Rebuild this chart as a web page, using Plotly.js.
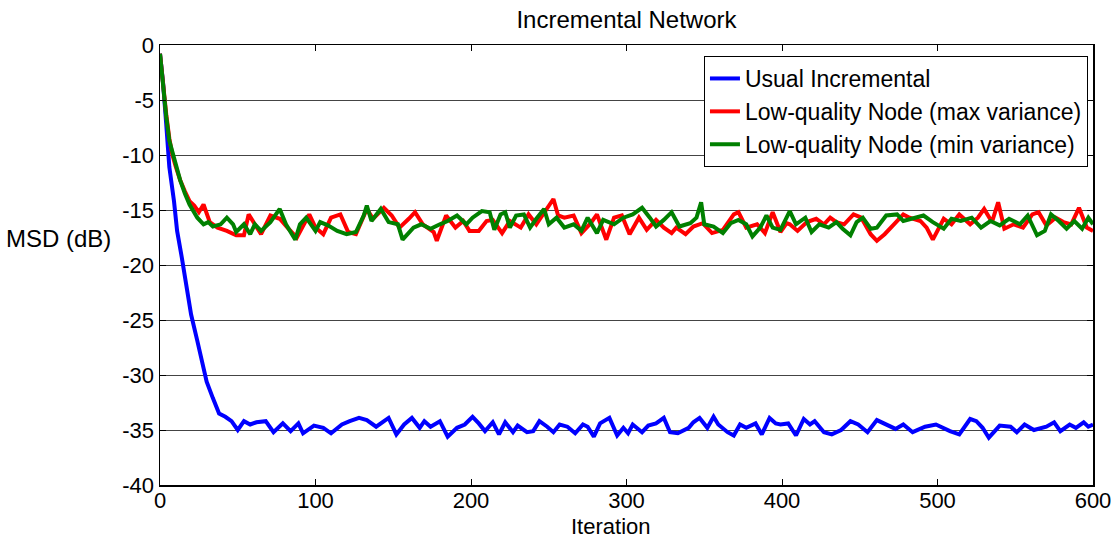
<!DOCTYPE html>
<html>
<head>
<meta charset="utf-8">
<script src="https://cdn.plot.ly/plotly-3.0.1.min.js"></script>
<style>html,body{margin:0;padding:0;background:#fff;}#chart{width:1118px;height:540px;}</style>
</head>
<body>
<div id="chart"></div>
<script>
// Series names
const seriesNames = ["Usual Incremental", "Low-quality Node (max variance)", "Low-quality Node (min variance)"];

// Usual Incremental (blue)
const blueIter = [0,2,4,6,9,11,14,17,20,24,27,30,34,38,42,46,50,54,58,62,68,73,79,84,89,92,99,105,110,117,122,128,133,139,147,152,157,162,167,170,174,180,185,191,196,201,205,209,214,218,222,227,230,236,240,244,249,253,257,262,267,272,275,279,283,289,294,298,301,304,310,314,319,324,328,333,340,343,347,352,356,359,365,369,373,377,383,387,392,396,399,404,409,414,418,421,427,432,438,444,449,455,461,466,473,478,484,492,499,508,514,521,525,529,533,540,547,551,556,562,570,575,579,585,589,594,597,600];
const blueMSD = [-0.8,-3.5,-7.2,-11.1,-14.2,-16.9,-19.3,-21.8,-24.5,-26.9,-28.8,-30.6,-32.1,-33.5,-33.8,-34.2,-35.0,-34.2,-34.5,-34.3,-34.2,-35.2,-34.4,-35.1,-34.4,-35.3,-34.6,-34.8,-35.3,-34.5,-34.2,-33.9,-34.1,-34.7,-33.9,-35.4,-34.5,-33.9,-34.8,-34.2,-34.7,-34.2,-35.6,-34.8,-34.5,-33.8,-34.4,-35.1,-34.3,-35.4,-34.3,-35.2,-34.6,-35.2,-35.1,-34.2,-34.7,-35.2,-34.5,-34.7,-35.3,-34.5,-34.7,-35.6,-34.4,-33.9,-35.5,-34.8,-35.3,-34.5,-35.2,-34.6,-34.4,-33.9,-35.2,-35.3,-34.8,-34.3,-33.9,-34.8,-33.8,-34.5,-35.2,-35.5,-34.5,-34.8,-34.4,-35.4,-33.9,-34.4,-34.5,-34.4,-35.5,-34.0,-34.5,-34.2,-35.2,-35.4,-35.0,-34.2,-34.5,-35.2,-34.1,-34.4,-34.9,-34.5,-35.2,-34.7,-34.5,-35.1,-35.4,-34.0,-34.2,-34.8,-35.7,-34.6,-34.7,-35.2,-34.5,-35.0,-34.7,-34.3,-35.1,-34.5,-34.8,-34.3,-34.7,-34.5];

// Low-quality Node (max variance) (red)
const redIter = [0,2,4,6,8,10,13,16,19,22,25,28,32,37,43,49,54,57,62,65,71,77,82,88,96,100,105,110,116,121,126,133,137,144,149,154,160,164,169,176,178,184,190,195,199,205,210,214,220,225,232,237,242,248,253,256,260,266,271,277,281,287,292,297,302,308,313,319,324,329,332,338,343,349,355,362,369,372,377,384,389,394,399,403,405,410,416,422,427,431,435,440,446,451,457,461,466,472,478,482,489,493,497,504,509,514,521,526,530,535,539,543,549,555,561,565,570,576,581,586,591,596,600];
const redMSD = [-0.8,-4.0,-6.3,-8.5,-10.0,-11.0,-12.3,-13.3,-14.2,-14.6,-15.2,-14.5,-16.1,-16.6,-16.9,-17.3,-17.3,-15.4,-16.6,-17.2,-15.5,-15.8,-16.6,-17.5,-15.4,-16.6,-17.2,-15.7,-15.4,-17.0,-17.2,-14.9,-15.8,-14.8,-15.5,-16.6,-15.8,-15.2,-16.3,-17.0,-17.8,-15.5,-16.6,-16.0,-16.9,-16.9,-16.0,-15.9,-17.1,-16.0,-16.6,-15.4,-16.3,-15.1,-14.0,-15.5,-15.7,-15.5,-17.1,-16.2,-15.4,-17.7,-15.7,-15.5,-17.2,-15.7,-16.8,-15.9,-16.6,-17.1,-16.6,-17.2,-16.5,-16.2,-17.1,-16.8,-15.4,-15.2,-16.6,-16.3,-17.1,-15.2,-17.0,-16.2,-16.3,-16.9,-16.1,-15.8,-16.3,-15.7,-16.1,-16.3,-15.4,-15.7,-17.2,-17.8,-17.2,-16.3,-15.4,-15.7,-16.0,-16.6,-17.7,-15.8,-16.3,-15.4,-16.3,-15.7,-14.9,-16.1,-14.3,-16.7,-16.3,-16.6,-15.4,-15.2,-16.4,-15.7,-16.1,-16.3,-14.8,-16.6,-16.9];

// Low-quality Node (min variance) (green)
const greenIter = [0,2,4,6,10,13,16,19,24,28,31,34,39,43,47,49,54,58,61,65,71,77,81,87,90,94,100,103,108,114,120,126,131,133,136,142,147,153,156,163,168,174,180,185,191,197,201,207,212,215,219,222,225,229,234,238,242,247,250,255,260,266,271,275,281,285,292,298,304,310,315,319,324,329,334,341,345,348,350,356,362,367,372,377,381,386,390,394,399,405,409,415,419,424,430,435,439,444,448,452,457,461,467,474,478,484,491,497,504,509,515,522,528,534,540,546,553,558,564,569,573,578,583,588,593,597,600];
const greenMSD = [-0.8,-4.1,-6.5,-8.7,-10.8,-12.3,-13.5,-14.5,-15.7,-16.3,-16.1,-16.5,-16.3,-15.7,-16.3,-17.0,-16.3,-17.2,-16.3,-16.9,-16.1,-14.9,-16.3,-17.7,-16.3,-15.7,-16.9,-16.1,-16.4,-16.9,-17.2,-17.0,-15.5,-14.6,-16.0,-14.9,-16.1,-16.3,-17.7,-16.6,-16.3,-16.7,-16.3,-16.0,-15.5,-16.3,-15.7,-15.1,-15.2,-16.8,-15.4,-15.2,-16.6,-15.5,-15.4,-16.6,-15.8,-14.9,-16.3,-15.7,-16.6,-16.3,-16.9,-15.7,-17.1,-15.9,-16.3,-15.7,-15.4,-14.8,-15.7,-16.5,-15.9,-15.2,-16.5,-16.2,-15.7,-14.3,-16.3,-16.5,-17.1,-16.2,-15.9,-16.3,-17.4,-16.6,-15.5,-16.6,-16.8,-15.1,-16.3,-15.7,-17.0,-16.3,-16.6,-16.1,-16.7,-17.3,-16.1,-15.7,-16.7,-16.6,-15.5,-15.4,-16.0,-15.8,-15.5,-16.1,-16.7,-15.8,-16.0,-15.7,-16.6,-16.0,-16.4,-15.8,-16.3,-15.5,-17.3,-16.9,-15.4,-16.0,-16.7,-16.0,-16.7,-15.7,-16.3];

// Tick values
const xTicks = [0,100,200,300,400,500,600];
const yTicks = [-40,-35,-30,-25,-20,-15,-10,-5,0];

const FONT = "Liberation Sans, Arial, Helvetica, sans-serif";

const traces = [
  {x: blueIter, y: blueMSD, name: seriesNames[0], type: 'scatter', mode: 'lines', line: {color: 'rgb(0,0,255)', width: 4}},
  {x: redIter, y: redMSD, name: seriesNames[1], type: 'scatter', mode: 'lines', line: {color: 'rgb(255,0,0)', width: 4}},
  {x: greenIter, y: greenMSD, name: seriesNames[2], type: 'scatter', mode: 'lines', line: {color: 'rgb(0,128,0)', width: 4}}
];

const layout = {
  width: 1118, height: 540,
  margin: {l: 160, r: 25, t: 45, b: 55},
  paper_bgcolor: '#ffffff', plot_bgcolor: '#ffffff',
  font: {family: FONT, size: 22, color: '#000'},
  title: {text: 'Incremental Network', xref: 'paper', x: 0.5, xanchor: 'center', y: 0.963, yanchor: 'middle', font: {family: FONT, size: 24, color: '#000'}},
  showlegend: true,
  legend: {x: 0.9946, xanchor: 'right', y: 0.975, yanchor: 'top', bgcolor: '#fff', bordercolor: '#000', borderwidth: 1, font: {family: FONT, size: 23, color: '#000'}, tracegroupgap: 0},
  xaxis: {
    range: [0, 600], tickvals: xTicks, ticktext: xTicks.map(String),
    ticks: 'inside', ticklen: 6, tickwidth: 1, tickcolor: '#000',
    ticklabelstandoff: -5,
    showline: true, linecolor: '#000', linewidth: 1.5, mirror: 'ticks',
    showgrid: false, zeroline: false, tickfont: {family: FONT, size: 22, color: '#000'}
  },
  yaxis: {
    range: [-40, 0], tickvals: yTicks, ticktext: yTicks.map(String),
    ticks: 'inside', ticklen: 6, tickwidth: 1, tickcolor: '#000',
    showline: true, linecolor: '#000', linewidth: 1.5, mirror: 'ticks',
    showgrid: true, gridcolor: '#444', gridwidth: 1, zeroline: false,
    tickfont: {family: FONT, size: 22, color: '#000'}
  },
  annotations: [
    {text: 'MSD (dB)', xref: 'paper', yref: 'paper', x: -0.05, xanchor: 'right', y: 0.561, yanchor: 'middle', showarrow: false, font: {family: FONT, size: 24, color: '#000'}},
    {text: 'Iteration', xref: 'paper', yref: 'paper', x: 0.4834, xanchor: 'center', y: -0.0932, yanchor: 'middle', showarrow: false, font: {family: FONT, size: 22, color: '#000'}}
  ]
};

Plotly.newPlot('chart', traces, layout, {displayModeBar: false, staticPlot: true});
</script>
</body>
</html>
